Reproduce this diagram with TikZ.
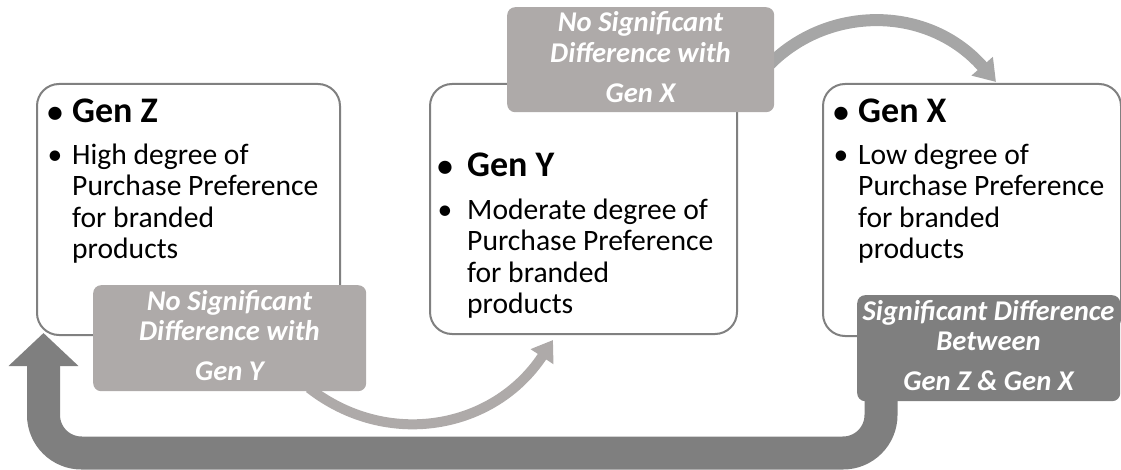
\documentclass[tikz,border=0pt]{standalone}
\usepackage{fontspec}
\setmainfont{Carlito}
\usetikzlibrary{arrows.meta}
\definecolor{boxgray}{HTML}{808080}
\definecolor{labgray}{HTML}{AEAAA9}
\definecolor{labdark}{HTML}{7F7F7F}
\definecolor{arrgray}{HTML}{A6A6A6}
\begin{document}
\begin{tikzpicture}[x=1pt,y=-1pt,
  genbox/.style={draw=boxgray, line width=2pt, rounded corners=22pt, fill=white, inner sep=0, anchor=north west},
  lab/.style={fill=labgray, rounded corners=8pt, inner sep=0, anchor=north west},
  labd/.style={fill=labdark, rounded corners=8pt, inner sep=0, anchor=north west},
  hd/.style={font=\fontsize{36}{40}\selectfont\bfseries, anchor=base west, inner sep=0},
  hdb/.style={font=\fontsize{31}{34}\selectfont\bfseries, anchor=base, inner sep=0},
  bd/.style={font=\fontsize{29.6}{31}\selectfont, anchor=base west, inner sep=0},
  bdb/.style={font=\fontsize{29.6}{31}\selectfont, anchor=base, inner sep=0},
  lt/.style={font=\fontsize{28.6}{30}\selectfont\bfseries\itshape, text=white, anchor=base, inner sep=0},
  uarrow/.style={draw=labdark, line width=33pt, rounded corners=38pt, -{Triangle[width=68pt,length=33pt]}},
  arrone/.style={draw=labgray, line width=10pt, -{Triangle[width=26pt,length=20pt]}},
  arrtwo/.style={draw=arrgray, line width=12pt, -{Triangle[width=27pt,length=21pt]}}
]
\useasboundingbox (0,0) rectangle (1121,470);

% main boxes
\node[genbox, minimum width=303pt, minimum height=251pt] (bz) at (36,83) {};
\node[genbox, minimum width=307pt, minimum height=250pt] (by) at (429,83) {};
\node[genbox, minimum width=298pt, minimum height=252pt] (bx) at (822,83) {};

% label corners and connector end points
\path (93,285) coordinate (l1nw) (507,7) coordinate (l2nw) (857,295) coordinate (l3nw);
\coordinate (ustart) at (881,396);
\coordinate (ubot) at (43.5,453);
\coordinate (uend) at (43.5,333);
\coordinate (a1start) at (309,388);
\coordinate (a1end) at (553,340);
\coordinate (a2start) at (770,64);
\coordinate (a2end) at (996,82);

% connectors
\draw[uarrow] (ustart) |- (ubot) -- (uend);
\draw[arrone] (a1start) .. controls (386.7,448.7) and (493.5,430.2) .. (a1end);
\draw[arrtwo] (a2start) .. controls (829,5) and (928.4,4.9) .. (a2end);

% labels
\node[lab, minimum width=273pt, minimum height=106pt] (lab1) at (l1nw) {};
\node[lab, minimum width=267pt, minimum height=105pt] (lab2) at (l2nw) {};
\node[labd, minimum width=263pt, minimum height=106pt] (lab3) at (l3nw) {};

% box Gen Z
\node[hdb] (zb0) at (55,123) {•};
\node[hd] (zh) at (72,123) {Gen Z};
\node[bdb] (zb1) at (55,165) {•};
\node[bd] (z1) at (72,165) {High degree of};
\node[bd] (z2) at (72,196) {Purchase Preference};
\node[bd] (z3) at (72,227.5) {for branded};
\node[bd] (z4) at (72,258.5) {products};

% box Gen Y
\node[hdb] (yb0) at (445,176.7) {•};
\node[hd] (yh) at (467,176.7) {Gen Y};
\node[bdb] (yb1) at (445,220) {•};
\node[bd] (y1) at (467,220) {Moderate degree of};
\node[bd] (y2) at (467,251) {Purchase Preference};
\node[bd] (y3) at (467,282) {for branded};
\node[bd] (y4) at (467,313) {products};

% box Gen X
\node[hdb] (xb0) at (841,123) {•};
\node[hd] (xh) at (858,123) {Gen X};
\node[bdb] (xb1) at (841,165) {•};
\node[bd] (x1) at (858,165) {Low degree of};
\node[bd] (x2) at (858,196) {Purchase Preference};
\node[bd] (x3) at (858,227.5) {for branded};
\node[bd] (x4) at (858,258.5) {products};

% label texts
\node[lt] (t11) at (229.5,310) {No Significant};
\node[lt] (t12) at (229.5,340.7) {Difference with};
\node[lt] (t13) at (229.5,380.7) {Gen Y};

\node[lt] (t21) at (640.5,32) {No Significant};
\node[lt] (t22) at (640.5,62.7) {Difference with};
\node[lt] (t23) at (640.5,102.7) {Gen X};

\node[lt] (t31) at (988.5,320) {Significant Difference};
\node[lt] (t32) at (988.5,350.7) {Between};
\node[lt] (t33) at (988.5,390.7) {Gen Z \& Gen X};
\end{tikzpicture}
\end{document}
